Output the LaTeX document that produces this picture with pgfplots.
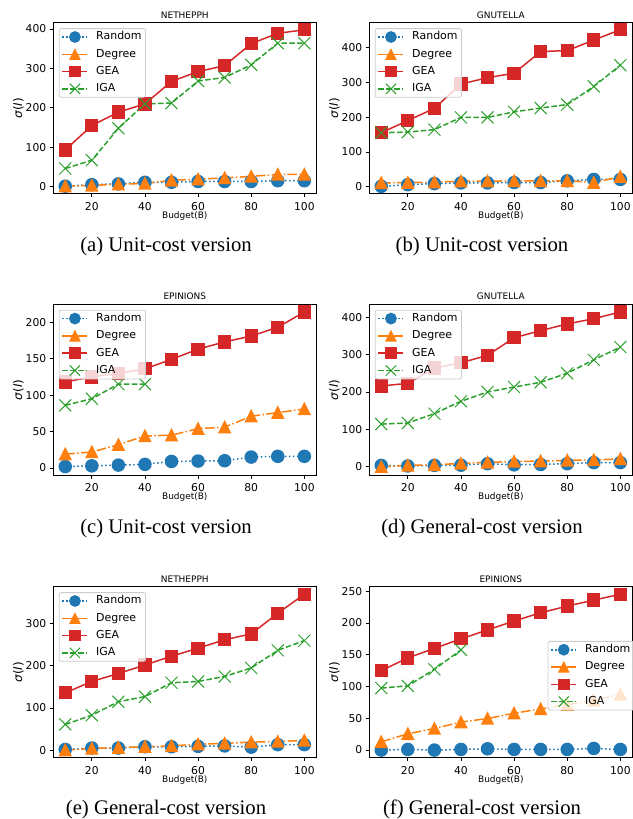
\documentclass[border=0pt]{standalone}
\usepackage{pgfplots}
\pgfplotsset{compat=1.18}
\usepackage{fontspec}
\setmainfont{DejaVu Sans}
\newfontfamily\capfont{Liberation Serif}
\definecolor{C0}{RGB}{31,119,180}
\definecolor{C1}{RGB}{255,127,14}
\definecolor{C2}{RGB}{44,160,44}
\definecolor{C3}{RGB}{214,39,40}
\pgfplotsset{
  mylegimg/.style={legend image code/.code={\draw[mark repeat=2,mark phase=2, fill opacity=1, draw opacity=1, every mark/.append style={scale=0.85}] plot coordinates {(0bp,0bp) (12.5bp,0bp) (25bp,0bp)};}},
  myaxis/.style={
    scale only axis, width=263bp, height=171bp, anchor=north west,
    xmin=5.5, xmax=104.5, xtick={20,40,60,80,100},
    tick pos=left, tick align=outside, major tick length=3.5bp,
    every tick/.style={black, line width=0.8bp},
    axis line style={black, line width=0.9bp},
    /pgf/number format/assume math mode=true,
    tick label style={font=\fontsize{10.8}{12}\selectfont},
    xticklabel style={yshift=-1.5bp},
    xlabel={Budget(B)}, ylabel={\textit{σ}(\textit{I})},
    xlabel style={at={(axis description cs:0.5,-0.129)}, anchor=center, font=\fontsize{9}{10}\selectfont},
    ylabel style={at={(axis description cs:-0.133,0.5)}, anchor=center, rotate=0, font=\fontsize{12}{13}\selectfont},
    every axis title shift=0pt,
    title style={at={(axis description cs:0.5,1.045)}, anchor=center, yshift=0pt, font=\fontsize{9}{10}\selectfont},
    legend cell align=left,
    legend style={at={(0,1)}, anchor=north west, xshift=5.5bp, yshift=-5.5bp,
      draw=black!20, line width=0.8bp, rounded corners=2bp, fill=white, fill opacity=0.8, text opacity=1,
      font=\fontsize{11}{12}\selectfont, inner xsep=2.5bp, inner ysep=1.5bp, row sep=3.5bp, column sep=6.5bp,
      nodes={inner sep=1.5bp, text height=8.3bp, text depth=2.5bp}},
  },
  rnd/.style={mylegimg, C0, line width=1.5bp, dash pattern=on 1.5bp off 2.5bp, mark=*, mark size=6bp, mark options={solid, fill=C0, draw=C0}},
  deg/.style={mylegimg, C1, line width=1.5bp, dash pattern=on 9.6bp off 2.4bp on 1.5bp off 2.4bp, mark=triangle*, mark size=7.3bp, mark options={solid, fill=C1, draw=C1, xscale=0.87, yshift=-1.8bp}},
  gea/.style={mylegimg, C3, line width=1.5bp, solid, mark=square*, mark size=5.9bp, mark options={solid, fill=C3, draw=C3}},
  iga/.style={mylegimg, C2, line width=1.5bp, dash pattern=on 5.5bp off 2.4bp, mark=x, mark size=8.5bp, mark options={solid, line width=1bp, draw=C2}},
}
\tikzset{subcaption/.style={anchor=base, font=\capfont\fontsize{20.8}{23}\selectfont}}
\begin{document}
\begin{tikzpicture}
\path[use as bounding box] (0,0) rectangle (633bp,-819bp);
% (a)
\begin{axis}[myaxis, at={(53.3bp,-22.7bp)}, title={NETHEPPH}, ymin=-18, ymax=416, ytick={0,100,200,300,400}]
\addplot[rnd] coordinates {(10,1) (20,5) (30,7) (40,11) (50,11) (60,13) (70,13) (80,13) (90,15) (100,15)};
\addplot[deg] coordinates {(10,1) (20,3) (30,6) (40,8) (50,16) (60,19) (70,22) (80,26) (90,31) (100,31)};
\addplot[gea] coordinates {(10,93) (20,155) (30,189) (40,210) (50,267) (60,292) (70,307) (80,363) (90,389) (100,398)};
\addplot[iga] coordinates {(10,46) (20,67) (30,148) (40,210) (50,212) (60,268) (70,277) (80,309) (90,364) (100,364)};
\legend{Random,Degree,GEA,IGA}
\end{axis}
% (b)
\begin{axis}[myaxis, at={(369.3bp,-22.7bp)}, title={GNUTELLA}, ymin=-20, ymax=471, ytick={0,100,200,300,400}]
\addplot[rnd] coordinates {(10,1) (20,6) (30,9) (40,11) (50,11) (60,12) (70,12) (80,17) (90,21) (100,21)};
\addplot[deg] coordinates {(10,11) (20,12) (30,13) (40,16) (50,16) (60,17) (70,17) (80,17) (90,12) (100,29)};
\addplot[gea] coordinates {(10,155) (20,190) (30,225) (40,295) (50,313) (60,326) (70,388) (80,391) (90,421) (100,451)};
\addplot[iga] coordinates {(10,155) (20,157) (30,164) (40,199) (50,199) (60,215) (70,226) (80,236) (90,288) (100,349)};
\legend{Random,Degree,GEA,IGA}
\end{axis}
% (c)
\begin{axis}[myaxis, at={(53.3bp,-304.3bp)}, title={EPINIONS}, ymin=-10, ymax=224.5, ytick={0,50,100,150,200}]
\addplot[rnd] coordinates {(10,2) (20,3) (30,4) (40,5) (50,9) (60,9.5) (70,10) (80,15) (90,16) (100,16)};
\addplot[deg] coordinates {(10,19) (20,22) (30,32) (40,44) (50,45) (60,54) (70,56) (80,71) (90,76) (100,81)};
\addplot[gea] coordinates {(10,118) (20,125) (30,130) (40,136) (50,149) (60,163) (70,173) (80,181) (90,193) (100,214)};
\addplot[iga] coordinates {(10,86) (20,95) (30,115) (40,115)};
\legend{Random,Degree,GEA,IGA}
\end{axis}
% (d)
\begin{axis}[myaxis, at={(369.3bp,-304.3bp)}, title={GNUTELLA}, ymin=-23, ymax=434.5, ytick={0,100,200,300,400}]
\addplot[rnd] coordinates {(10,3.5) (20,2) (30,3.5) (40,4) (50,8) (60,5) (70,6) (80,8) (90,11) (100,11)};
\addplot[deg] coordinates {(10,0) (20,3.5) (30,5) (40,9) (50,11.5) (60,14) (70,15) (80,17) (90,18) (100,21)};
\addplot[gea] coordinates {(10,216) (20,223) (30,264) (40,278) (50,298) (60,345) (70,364) (80,382) (90,396) (100,414)};
\addplot[iga] coordinates {(10,114) (20,117) (30,142) (40,175) (50,200) (60,213) (70,226) (80,250) (90,286) (100,320)};
\legend{Random,Degree,GEA,IGA}
\end{axis}
% (e)
\begin{axis}[myaxis, at={(53.3bp,-586.7bp)}, title={NETHEPPH}, ymin=-18, ymax=388, ytick={0,100,200,300}]
\addplot[rnd] coordinates {(10,1.6) (20,5) (30,5) (40,8) (50,8) (60,9) (70,10) (80,7) (90,13) (100,13)};
\addplot[deg] coordinates {(10,0) (20,4) (30,6) (40,8) (50,10) (60,14) (70,16) (80,19) (90,20.5) (100,23)};
\addplot[gea] coordinates {(10,136) (20,163) (30,182) (40,202) (50,223) (60,242) (70,262) (80,276) (90,325) (100,370)};
\addplot[iga] coordinates {(10,61) (20,83) (30,115) (40,127) (50,160) (60,163) (70,175) (80,195) (90,237) (100,260)};
\legend{Random,Degree,GEA,IGA}
\end{axis}
% (f)
\begin{axis}[myaxis, at={(369.3bp,-586.7bp)}, title={EPINIONS}, ymin=-12, ymax=257, ytick={0,50,100,150,200,250},
  legend style={at={(1,0.5)}, anchor=east, xshift=-3bp, yshift=2bp}]
\addplot[rnd] coordinates {(10,0) (20,1) (30,0) (40,1) (50,2) (60,1) (70,1) (80,1) (90,2.6) (100,1)};
\addplot[deg] coordinates {(10,13) (20,25.6) (30,34) (40,44) (50,49.6) (60,58) (70,64.7) (80,71.5) (90,78) (100,87.7)};
\addplot[gea] coordinates {(10,125) (20,145) (30,160) (40,175) (50,189) (60,203) (70,216) (80,226.5) (90,236) (100,245)};
\addplot[iga] coordinates {(10,97.6) (20,101) (30,127) (40,157.6)};
\legend{Random,Degree,GEA,IGA}
\end{axis}
% captions
\node[subcaption] at (166bp,-251bp) {(a) Unit-cost version};
\node[subcaption] at (482bp,-251bp) {(b) Unit-cost version};
\node[subcaption] at (166bp,-533bp) {(c) Unit-cost version};
\node[subcaption] at (482bp,-533bp) {(d) General-cost version};
\node[subcaption] at (166bp,-814bp) {(e) General-cost version};
\node[subcaption] at (482bp,-814bp) {(f) General-cost version};
\end{tikzpicture}
\end{document}
